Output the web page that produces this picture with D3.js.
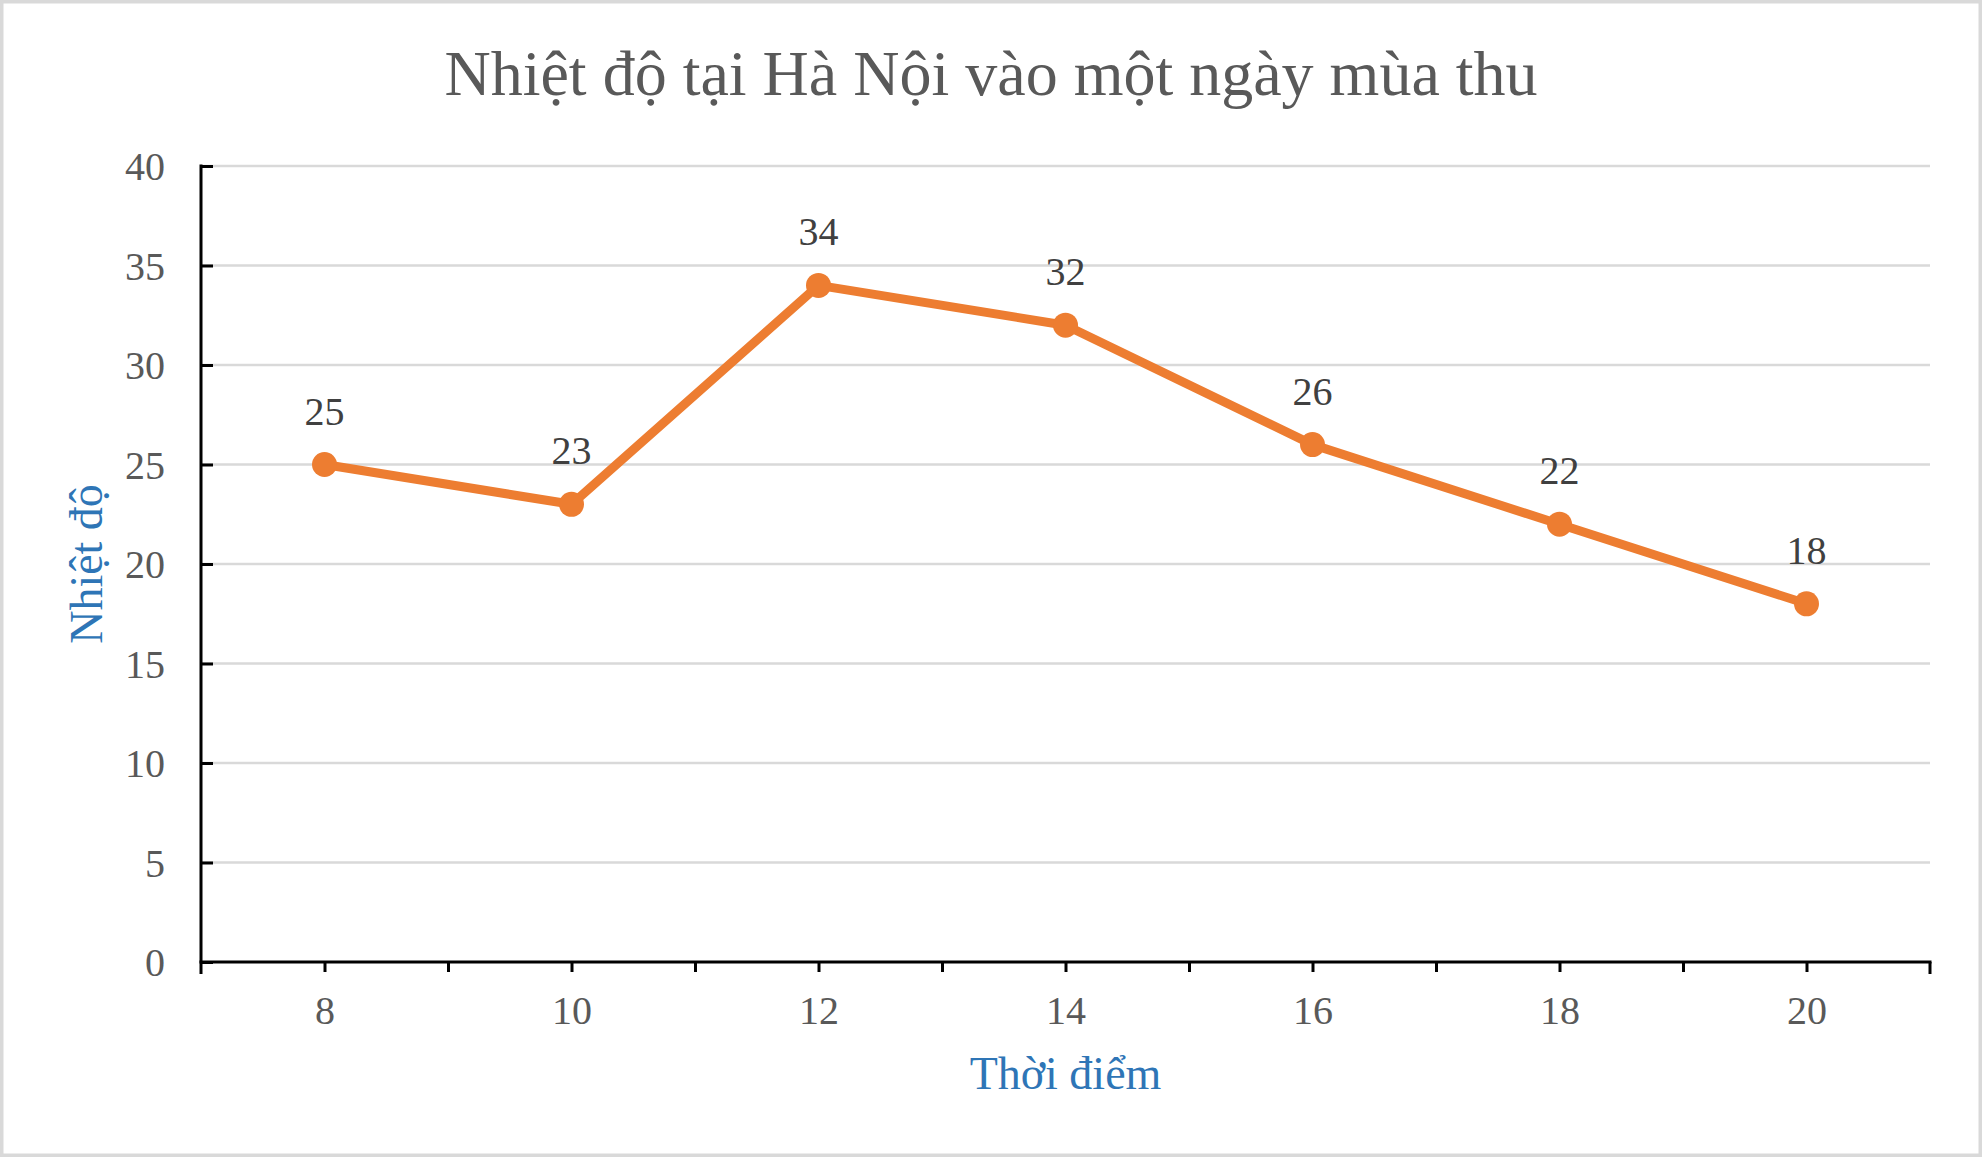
<!DOCTYPE html>
<meta charset="utf-8">
<title>Nhiệt độ tại Hà Nội</title>
<style>
body { margin: 0; background: #fff; }
text { font-family: "Liberation Serif", "Times New Roman", serif; }
</style>
<body>
<svg width="1982" height="1157" id="svg"></svg>
<script src="https://d3js.org/d3.v7.min.js"></script>
<script>

// data
var hours = [8, 10, 12, 14, 16, 18, 20];
var temps = [25, 23, 34, 32, 26, 22, 18];
var yTicks = [0, 5, 10, 15, 20, 25, 30, 35, 40];
var xLabels = [8, 10, 12, 14, 16, 18, 20];

var chartTitle = "Nhiệt độ tại Hà Nội vào một ngày mùa thu",
    xTitle = "Thời điểm",
    yTitle = "Nhiệt độ";

var svg = d3.select("svg"),
    width = +svg.attr("width"),
    height = +svg.attr("height");

// (window.top is read-only, so don't call these "top")
var margin = {top: 166, right: 52, bottom: 195, left: 201};
var plotL = margin.left, plotR = width - margin.right,
    plotT = margin.top, plotB = height - margin.bottom;

// frame round the whole chart
svg.append("rect")
    .attr("x", 1.75).attr("y", 1.75)
    .attr("width", width - 3.5).attr("height", height - 3.5)
    .attr("fill", "#fff")
    .attr("stroke", "#d9d9d9")
    .attr("stroke-width", 3.5);

var x = d3.scaleLinear().domain([7, 21]).range([plotL, plotR]);
var y = d3.scaleLinear().domain([0, 40]).range([plotB, plotT]);

// gridlines
svg.append("g")
  .selectAll("line")
  .data(yTicks.filter(function(d) { return d > 0; }))
  .enter().append("line")
    .attr("x1", plotL).attr("x2", plotR)
    .attr("y1", function(d) { return y(d); })
    .attr("y2", function(d) { return y(d); })
    .attr("stroke", "#d9d9d9")
    .attr("stroke-width", 2.5);

// y axis: ticks point into the plot
var yAxis = svg.append("g")
    .attr("transform", "translate(" + plotL + ",0)")
    .call(d3.axisRight(y).tickValues(yTicks).tickSize(12).tickFormat(""));
yAxis.select(".domain").remove();
yAxis.selectAll("line").attr("stroke", "#000").attr("stroke-width", 3);
svg.append("line")
    .attr("x1", plotL).attr("x2", plotL)
    .attr("y1", plotT - 1.5).attr("y2", plotB + 12)
    .attr("stroke", "#000").attr("stroke-width", 3);

svg.append("g").selectAll("text")
  .data(yTicks)
  .enter().append("text")
    .attr("x", plotL - 36)
    .attr("y", function(d) { return y(d); })
    .attr("dy", "0.35em")
    .attr("text-anchor", "end")
    .attr("fill", "#595959")
    .style("font-size", "40px")
    .text(function(d) { return d; });

// x axis: a tick every hour, labels on the even hours
var xAxis = svg.append("g")
    .attr("transform", "translate(0," + plotB + ")")
    .call(d3.axisBottom(x).tickValues(d3.range(8, 21)).tickSize(10).tickSizeOuter(0)
      .tickFormat(function(d) { return xLabels.indexOf(d) >= 0 ? d : ""; }));
xAxis.select(".domain").remove();
xAxis.selectAll("line").attr("stroke", "#000").attr("stroke-width", 3);
xAxis.selectAll("text")
    .attr("y", 62).attr("dy", 0)
    .attr("fill", "#595959")
    .style("font-size", "40px")
    .style("font-family", "'Liberation Serif', 'Times New Roman', serif");
svg.append("line")
    .attr("x1", plotL - 1.5).attr("x2", plotR + 1.5)
    .attr("y1", plotB).attr("y2", plotB)
    .attr("stroke", "#000").attr("stroke-width", 3);
svg.append("line")
    .attr("x1", plotR).attr("x2", plotR)
    .attr("y1", plotB).attr("y2", plotB + 12)
    .attr("stroke", "#000").attr("stroke-width", 3);

// the series
var points = hours.map(function(h, i) { return {h: h, t: temps[i]}; });

var line = d3.line()
    .x(function(d) { return x(d.h); })
    .y(function(d) { return y(d.t); });

svg.append("path")
    .datum(points)
    .attr("d", line)
    .attr("fill", "none")
    .attr("stroke", "#ed7d31")
    .attr("stroke-width", 9)
    .attr("stroke-linejoin", "round");

svg.append("g").selectAll("circle")
  .data(points)
  .enter().append("circle")
    .attr("cx", function(d) { return x(d.h); })
    .attr("cy", function(d) { return y(d.t); })
    .attr("r", 12.5)
    .attr("fill", "#ed7d31");

svg.append("g").selectAll("text")
  .data(points)
  .enter().append("text")
    .attr("x", function(d) { return x(d.h); })
    .attr("y", function(d) { return y(d.t) - 40; })
    .attr("text-anchor", "middle")
    .attr("fill", "#404040")
    .style("font-size", "40px")
    .text(function(d) { return d.t; });

// titles
svg.append("text")
    .attr("x", width / 2)
    .attr("y", 95)
    .attr("text-anchor", "middle")
    .attr("fill", "#595959")
    .style("font-size", "64px")
    .text(chartTitle);

svg.append("text")
    .attr("x", (plotL + plotR) / 2)
    .attr("y", 1089)
    .attr("text-anchor", "middle")
    .attr("fill", "#2e75b6")
    .style("font-size", "46px")
    .text(xTitle);

svg.append("text")
    .attr("transform", "translate(102," + (plotT + plotB) / 2 + ") rotate(-90)")
    .attr("text-anchor", "middle")
    .attr("fill", "#2e75b6")
    .style("font-size", "46px")
    .text(yTitle);

</script>
</body>
